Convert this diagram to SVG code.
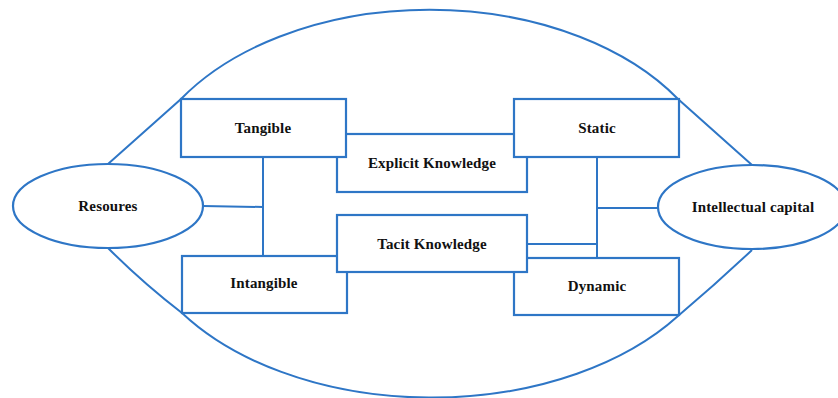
<svg xmlns="http://www.w3.org/2000/svg" width="838" height="398" viewBox="0 0 838 398">
  <style>
    .ln { fill: none; stroke: #2E76C6; stroke-width: 2; }
    .box { fill: #FFFFFF; stroke: #2E76C6; stroke-width: 2.2; }
    .lbl { font-family: "Liberation Serif", "Times New Roman", serif; font-weight: bold; font-size: 15px; letter-spacing: 0.15px; fill: #111111; text-anchor: middle; }
  </style>
  <rect x="0" y="0" width="838" height="398" fill="#FFFFFF"/>

  <!-- outer enclosing outline, meeting the two ellipses at top and bottom -->
  <g id="outline">
    <path class="ln" d="M108,164 L181,99 A295,193.5 0 0 1 678,99 L752,165"/>
    <path class="ln" d="M108,248 Q143,283 182,313 A302,193.5 0 0 0 678,316 Q717,283 752,250"/>
  </g>

  <!-- connectors -->
  <g id="connectors">
    <line class="ln" x1="203" y1="206" x2="263" y2="207"/>
    <line class="ln" x1="263" y1="157" x2="263" y2="256"/>
    <line class="ln" x1="597" y1="157" x2="597" y2="258"/>
    <line class="ln" x1="597" y1="208" x2="658" y2="208"/>
    <line class="ln" x1="527" y1="244" x2="597" y2="244"/>
  </g>

  <g id="explicit">
    <rect class="box" x="337" y="134" width="190" height="58"/>
    <text class="lbl" x="432" y="168">Explicit Knowledge</text>
  </g>

  <g id="tangible">
    <rect class="box" x="181" y="99" width="165" height="58"/>
    <text class="lbl" x="263" y="133">Tangible</text>
  </g>

  <g id="static">
    <rect class="box" x="514" y="99" width="165" height="58"/>
    <text class="lbl" x="597" y="133">Static</text>
  </g>

  <g id="intangible">
    <rect class="box" x="182" y="256" width="165" height="57"/>
    <text class="lbl" x="264" y="288">Intangible</text>
  </g>

  <g id="dynamic">
    <rect class="box" x="514" y="258" width="165" height="57"/>
    <text class="lbl" x="597" y="291">Dynamic</text>
  </g>

  <g id="tacit">
    <rect class="box" x="337" y="215" width="190" height="57"/>
    <text class="lbl" x="432" y="249">Tacit Knowledge</text>
  </g>

  <g id="resources">
    <ellipse class="box" cx="108" cy="206" rx="95" ry="42"/>
    <text class="lbl" x="108" y="211">Resoures</text>
  </g>

  <g id="intellectual-capital">
    <ellipse class="box" cx="752" cy="207" rx="94" ry="42"/>
    <text class="lbl" x="753" y="212">Intellectual capital</text>
  </g>
</svg>
